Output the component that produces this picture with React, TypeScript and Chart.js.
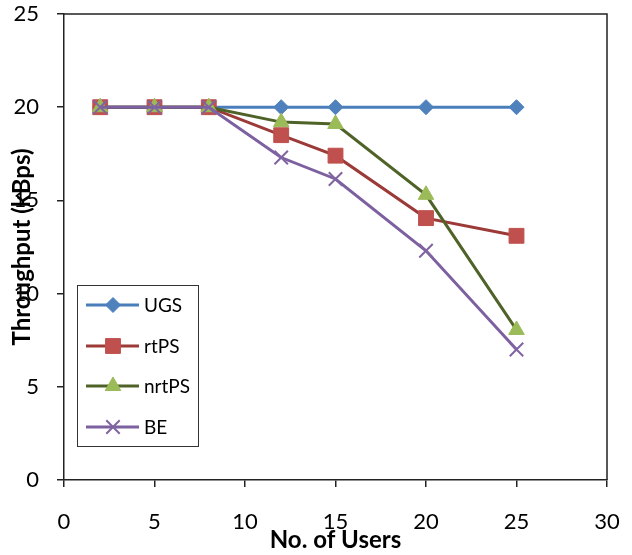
import React, { useEffect, useRef } from 'react';
import { Chart, registerables } from 'chart.js';

Chart.register(...registerables);

const users = [2, 5, 8, 12, 15, 20, 25];
const ugs = [20, 20, 20, 20, 20, 20, 20];
const rtps = [20, 20, 20, 18.5, 17.4, 14.05, 13.1];
const nrtps = [20, 20, 20, 19.2, 19.1, 15.3, 8.05];
const be = [20, 20, 20, 17.3, 16.15, 12.3, 7.0];

const seriesNames = ['UGS', 'rtPS', 'nrtPS', 'BE'];
const seriesValues = [ugs, rtps, nrtps, be];
const lineColors = ['#4A7EBB', '#9B3A37', '#4F6228', '#7D60A0'];
const markerColors = ['#4F81BD', '#C0504D', '#9BBB59', '#8064A2'];
const markerStyles = ['rectRot', 'rect', 'triangle', 'crossRot'];
const markerRadii = [7.5, 10.5, 9, 9.5];

const xTitle = 'No. of Users';
const yTitle = 'Throughput (kBps)';

const FONT = "Lato, 'Open Sans', sans-serif";

function drawMarker(ctx: CanvasRenderingContext2D, style: string, x: number, y: number, r: number, color: string) {
  ctx.save();
  ctx.fillStyle = color;
  ctx.strokeStyle = color;
  ctx.lineWidth = 1;
  ctx.beginPath();
  if (style === 'rectRot') {
    ctx.moveTo(x, y - r);
    ctx.lineTo(x + r, y);
    ctx.lineTo(x, y + r);
    ctx.lineTo(x - r, y);
    ctx.closePath();
    ctx.fill();
    ctx.stroke();
  } else if (style === 'rect') {
    const s = Math.SQRT1_2 * r;
    ctx.rect(x - s, y - s, 2 * s, 2 * s);
    ctx.fill();
    ctx.stroke();
  } else if (style === 'triangle') {
    const rad = -Math.PI / 2;
    for (let i = 0; i < 3; i++) {
      const a = rad + (i * 2 * Math.PI) / 3;
      const px = x + Math.cos(a) * r;
      const py = y + Math.sin(a) * r;
      if (i === 0) ctx.moveTo(px, py);
      else ctx.lineTo(px, py);
    }
    ctx.closePath();
    ctx.fill();
    ctx.stroke();
  } else if (style === 'crossRot') {
    const s = Math.SQRT1_2 * r;
    ctx.lineWidth = 2;
    ctx.moveTo(x - s, y - s);
    ctx.lineTo(x + s, y + s);
    ctx.moveTo(x + s, y - s);
    ctx.lineTo(x - s, y + s);
    ctx.stroke();
  }
  ctx.restore();
}

const frameAndLegend = {
  id: 'frameAndLegend',
  beforeDatasetsDraw(chart: any) {
    const { ctx, chartArea } = chart;
    ctx.save();
    ctx.strokeStyle = '#222';
    ctx.lineWidth = 1.5;
    ctx.beginPath();
    ctx.moveTo(chartArea.left, chartArea.top);
    ctx.lineTo(chartArea.right, chartArea.top);
    ctx.lineTo(chartArea.right, chartArea.bottom);
    ctx.stroke();
    ctx.restore();
  },
  afterDatasetsDraw(chart: any) {
    const { ctx, chartArea } = chart;
    const bx = chartArea.left + 13.5;
    const by = 285.5;
    const bw = 121;
    const bh = 161;
    ctx.save();
    ctx.fillStyle = '#fff';
    ctx.fillRect(bx, by, bw, bh);
    ctx.strokeStyle = '#333';
    ctx.lineWidth = 1;
    ctx.strokeRect(bx, by, bw, bh);
    const rows = [305, 346, 386, 427];
    seriesNames.forEach((name, i) => {
      const y = rows[i];
      ctx.strokeStyle = lineColors[i];
      ctx.lineWidth = 3;
      ctx.beginPath();
      ctx.moveTo(bx + 8.5, y);
      ctx.lineTo(bx + 61.5, y);
      ctx.stroke();
      drawMarker(ctx, markerStyles[i], bx + 35.5, y, markerRadii[i], markerColors[i]);
      ctx.fillStyle = '#000';
      ctx.font = `19px ${FONT}`;
      ctx.textAlign = 'left';
      ctx.textBaseline = 'middle';
      ctx.fillText(name, bx + 66.5, y + 1);
    });
    ctx.restore();
  },
};

function zeroPadding(scale: any) {
  scale.paddingTop = 0;
  scale.paddingBottom = 0;
  scale.paddingLeft = 0;
  scale.paddingRight = 0;
}

export default function App() {
  const canvasRef = useRef<HTMLCanvasElement | null>(null);

  useEffect(() => {
    if (!canvasRef.current) return;
    Chart.defaults.font.family = FONT;
    const datasets = seriesNames.map((name, i) => ({
      label: name,
      data: users.map((u, j) => ({ x: u, y: seriesValues[i][j] })),
      borderColor: lineColors[i],
      backgroundColor: markerColors[i],
      borderWidth: 3,
      pointStyle: markerStyles[i] as any,
      pointRadius: markerRadii[i],
      pointBackgroundColor: markerColors[i],
      pointBorderColor: markerColors[i],
      pointBorderWidth: markerStyles[i] === 'crossRot' ? 2 : 1,
      tension: 0,
      order: seriesNames.length - i,
    }));
    const chart = new Chart(canvasRef.current, {
      type: 'line',
      data: { datasets },
      plugins: [frameAndLegend],
      options: {
        responsive: false,
        animation: false,
        layout: { padding: { top: 14, right: 25, left: 0, bottom: 0 } },
        plugins: { legend: { display: false }, tooltip: { enabled: false } },
        scales: {
          x: {
            type: 'linear',
            min: 0,
            max: 30,
            ticks: { stepSize: 5, color: '#000', font: { size: 22 }, padding: 22 },
            grid: { drawOnChartArea: false, drawTicks: true, tickLength: 7, color: '#222', lineWidth: 1.5 },
            border: { display: true, color: '#222', width: 1.5 },
            title: {
              display: true,
              text: xTitle,
              color: '#000',
              font: { size: 24, weight: 'bold' },
              padding: { top: 0, bottom: 0 },
            },
            afterFit: (scale: any) => {
              scale.height = 75;
              zeroPadding(scale);
            },
          },
          y: {
            type: 'linear',
            min: 0,
            max: 25,
            ticks: { stepSize: 5, color: '#000', font: { size: 22 }, padding: 18 },
            grid: { drawOnChartArea: false, drawTicks: true, tickLength: 7, color: '#222', lineWidth: 1.5 },
            border: { display: true, color: '#222', width: 1.5 },
            title: {
              display: true,
              text: yTitle,
              color: '#000',
              font: { size: 24, weight: 'bold' },
              padding: { top: 7.5, bottom: 0 },
            },
            afterFit: (scale: any) => {
              scale.width = 64;
              zeroPadding(scale);
            },
          },
        },
      },
    });
    return () => chart.destroy();
  }, []);

  return (
    <div style={{ position: 'absolute', left: 0, top: 0, width: 632, height: 555, background: '#fff' }}>
      <canvas ref={canvasRef} width={632} height={555} style={{ width: 632, height: 555, display: 'block' }} />
    </div>
  );
}
